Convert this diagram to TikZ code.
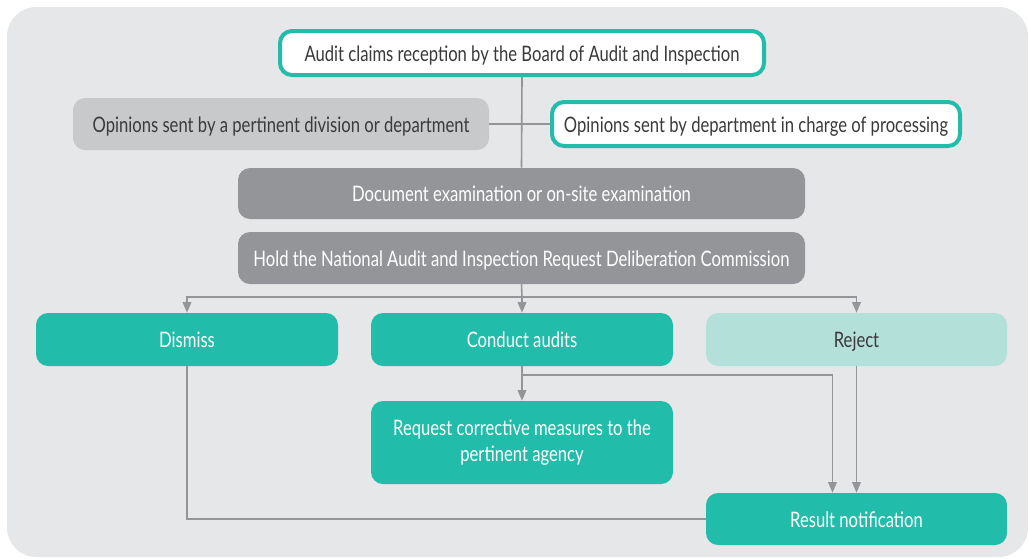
\documentclass[tikz,border=0pt]{standalone}
\usepackage{fontspec}
\setmainfont{Lato}[FakeStretch=0.78]
\usetikzlibrary{arrows.meta}
\definecolor{panelgray}{HTML}{E6E7E8}
\definecolor{boxteal}{HTML}{22BCAB}
\definecolor{paleteal}{HTML}{B3E1DA}
\definecolor{lightbox}{HTML}{C8C9CB}
\definecolor{darkbox}{HTML}{939598}
\definecolor{linegray}{HTML}{939598}
\definecolor{txtdark}{HTML}{3A3A3C}
\tikzset{
  box/.style={rounded corners=9pt, inner sep=0pt, align=center,
    font=\fontsize{16}{20}\selectfont},
  oneline/.style={text height=12pt, text depth=0pt},
  outlined/.style={box, oneline, fill=white, draw=boxteal, line width=3pt, text=txtdark},
  softbox/.style={box, oneline, fill=lightbox, text=txtdark},
  greybox/.style={box, oneline, fill=darkbox, text=white},
  tealbox/.style={box, fill=boxteal, text=white},
  palebox/.style={box, oneline, fill=paleteal, text=txtdark},
  link/.style={draw=linegray, line width=1.2pt},
  arrowlink/.style={link, -{Triangle[length=8pt, width=6.5pt]}, color=linegray}
}
\begin{document}
\begin{tikzpicture}[x=0.75pt, y=-0.75pt]
\useasboundingbox (0,0) rectangle (1029,558);
\fill[panelgray, rounded corners=22pt] (7,7) rectangle (1028,557);

\node[outlined, minimum width=0.75*484pt, minimum height=0.75*44pt] (claims) at (522,53)
  {Audit claims reception by the Board of Audit and Inspection};
\node[softbox, minimum width=0.75*416pt, minimum height=0.75*52pt] (division) at (281,124)
  {Opinions sent by a pertinent division or department};
\node[outlined, minimum width=0.75*408pt, minimum height=0.75*44pt] (charge) at (756,124)
  {Opinions sent by department in charge of processing};
\node[greybox, minimum width=0.75*567pt, minimum height=0.75*51pt] (exam) at (521.5,193.5)
  {Document examination or on-site examination};
\node[greybox, minimum width=0.75*567pt, minimum height=0.75*52pt] (commission) at (521.5,258)
  {Hold the National Audit and Inspection Request Deliberation Commission};
\node[tealbox, oneline, minimum width=0.75*302pt, minimum height=0.75*53pt] (dismiss) at (187,339.5)
  {Dismiss};
\node[tealbox, oneline, minimum width=0.75*302pt, minimum height=0.75*53pt] (conduct) at (522,339.5)
  {Conduct audits};
\node[palebox, minimum width=0.75*301pt, minimum height=0.75*53pt] (reject) at (856.5,339.5)
  {Reject};
\node[tealbox, minimum width=0.75*302pt, minimum height=0.75*83pt] (request) at (522,442.5)
  {Request corrective measures to the\\pertinent agency};
\node[tealbox, oneline, minimum width=0.75*301pt, minimum height=0.75*52pt] (result) at (856.5,519)
  {Result notification};

% connectors
\draw[link] (claims.south) -- (exam.north);
\draw[link] (division.east) -- (charge.west);
\coordinate (split) at (522,297);
\draw[link] (commission.south) -- (split);
\draw[arrowlink] (split) -| (dismiss.north);
\draw[arrowlink] (split) -- (conduct.north);
\draw[arrowlink] (split) -| (reject.north);
\draw[arrowlink] (conduct.south) -- (request.north);
\coordinate (branch) at (522,375);
\draw[arrowlink] (branch) -| ([xshift=-18pt]result.north);
\draw[arrowlink] (reject.south) -- (reject.south |- result.north);
\draw[link] (dismiss.south) |- (result.west);
\end{tikzpicture}
\end{document}
